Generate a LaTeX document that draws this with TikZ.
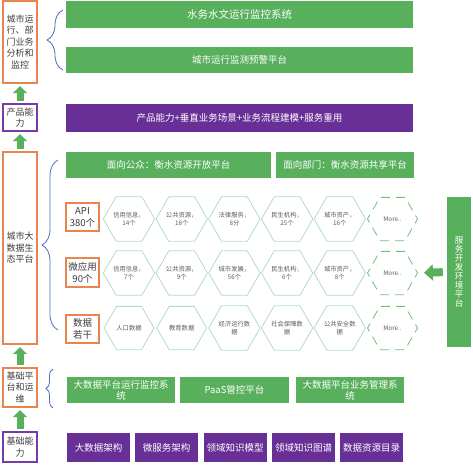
\documentclass[tikz,border=0pt]{standalone}
\usepackage{fontspec}
\newfontfamily\cjk{Noto Sans CJK SC}
\usetikzlibrary{shapes.geometric,arrows.meta,decorations.pathreplacing}
\definecolor{gbar}{RGB}{88,176,92}
\definecolor{pbar}{RGB}{104,48,150}
\definecolor{oline}{RGB}{232,132,78}
\definecolor{pline}{RGB}{120,60,170}
\definecolor{hexline}{RGB}{176,220,196}
\definecolor{moreline}{RGB}{110,190,120}
\definecolor{bracec}{RGB}{80,110,190}
\definecolor{txt}{RGB}{60,60,60}
\definecolor{hextxt}{RGB}{90,90,90}
\tikzset{
  base/.style={inner sep=0pt, align=center},
  gbox/.style={base, fill=gbar, text=white, font=\cjk\fontsize{9.5}{11}\selectfont},
  pbox/.style={base, fill=pbar, text=white, font=\cjk\fontsize{9.5}{11}\selectfont},
  lbox/.style={base, fill=white, draw=oline, line width=1.3pt, text=txt, minimum width=34pt, font=\cjk\fontsize{9}{11.5}\selectfont},
  lpbox/.style={lbox, draw=pline},
  hexbox/.style={base, regular polygon, regular polygon sides=6, minimum size=50pt, draw=hexline, line width=0.8pt, text=hextxt, font=\cjk\fontsize{6.3}{8}\selectfont},
  morebox/.style={hexbox, draw=moreline, dash pattern=on 9pt off 6pt},
  uparrow/.style={draw=gbar, line width=7pt, -{Triangle[width=14pt,length=7pt]}, shorten <=2.5pt, shorten >=2.5pt},
  lbrace/.style={draw=bracec, line width=0.8pt, decorate},
}
\begin{document}
\begin{tikzpicture}[x=1pt,y=-1pt]
\useasboundingbox (0,0) rectangle (473,464);
% left labels
\node[lbox, minimum height=82pt] (L1) at (20,42) {城市运\\行、部\\门业务\\分析和\\监控};
\node[lpbox, minimum height=27pt] (L2) at (20,117.5) {产品能\\力};
\node[lbox, minimum height=192pt] (L3) at (20,248) {城市大\\数据生\\态平台};
\node[lbox, minimum height=39pt] (L4) at (20,387.5) {基础平\\台和运\\维};
\node[lpbox, minimum height=30pt] (L5) at (20,447) {基础能\\力};
\draw[uparrow] (L2.north) -- (L1.south);
\draw[uparrow] (L3.north) -- (L2.south);
\draw[uparrow] (L4.north) -- (L3.south);
\draw[uparrow] (L5.north) -- (L4.south);
% braces
\draw[lbrace, decoration={brace, amplitude=16pt, aspect=0.5}] (63,70) -- (63,10);
\draw[lbrace, decoration={brace, amplitude=16pt, aspect=0.5}] (58,330) -- (58,160);
\draw[lbrace, decoration={brace, amplitude=7pt, aspect=0.5}] (53,408) -- (53,369);
% top bars
\node[gbox, minimum width=347pt, minimum height=27pt, font=\cjk\fontsize{10.5}{12}\selectfont] (G1) at (239.5,14) {水务水文运行监控系统};
\node[gbox, minimum width=347pt, minimum height=26pt] (G2) at (239.5,60) {城市运行监测预警平台};
\node[pbox, minimum width=347pt, minimum height=28pt] (P1) at (239.5,118) {产品能力+垂直业务场景+业务流程建模+服务重用};
\node[gbox, minimum width=205pt, minimum height=26pt] (G3) at (168.5,165) {面向公众：衡水资源开放平台};
\node[gbox, minimum width=138pt, minimum height=26pt] (G4) at (345,165) {面向部门：衡水资源共享平台};
% row labels
\node[lbox, minimum width=33pt, minimum height=28pt, font=\cjk\fontsize{9.5}{12}\selectfont] (A1) at (82.5,217) {API\\380个};
\node[lbox, minimum width=33pt, minimum height=29pt, font=\cjk\fontsize{9.5}{12}\selectfont] (A2) at (82.5,272.5) {微应用\\90个};
\node[lbox, minimum width=33pt, minimum height=28pt, font=\cjk\fontsize{9.5}{12}\selectfont] (A3) at (82.5,329) {数据\\若干};
% hex row 1
\node[hexbox] (h11) at (129,219) {信用信息，\\14个};
\node[hexbox] (h12) at (181.7,219) {公共资源，\\18个};
\node[hexbox] (h13) at (234.4,219) {法律服务，\\8分};
\node[hexbox] (h14) at (287.1,219) {民生机构，\\25个};
\node[hexbox] (h15) at (339.8,219) {城市资产，\\16个};
\node[morebox] (h16) at (392.5,219) {More..};
% hex row 2
\node[hexbox] (h21) at (129,273) {信用信息，\\7个};
\node[hexbox] (h22) at (181.7,273) {公共资源，\\9个};
\node[hexbox] (h23) at (234.4,273) {城市发展，\\56个};
\node[hexbox] (h24) at (287.1,273) {民生机构，\\6个};
\node[hexbox] (h25) at (339.8,273) {城市资产，\\8个};
\node[morebox] (h26) at (392.5,273) {More..};
% hex row 3
\node[hexbox] (h31) at (129,328) {人口数据};
\node[hexbox] (h32) at (181.7,328) {教育数据};
\node[hexbox] (h33) at (234.4,328) {经济运行数\\据};
\node[hexbox] (h34) at (287.1,328) {社会保障数\\据};
\node[hexbox] (h35) at (339.8,328) {公共安全数\\据};
\node[morebox] (h36) at (392.5,328) {More..};
% right box
\node[gbox, minimum width=24pt, minimum height=150pt, font=\cjk\fontsize{8.5}{9}\selectfont] (R) at (459,272) {服\\务\\开\\发\\环\\境\\平\\台};
\draw[draw=gbar, line width=8pt, -{Triangle[width=16pt,length=9pt]}, shorten <=4pt, shorten >=6pt] (R.west) -- (h26.east);
% bottom bars
\node[gbox, minimum width=108pt, minimum height=26pt] (B1) at (121,390) {大数据平台运行监控系\\统};
\node[gbox, minimum width=109pt, minimum height=26pt] (B2) at (234.5,390) {PaaS管控平台};
\node[gbox, minimum width=108pt, minimum height=26pt] (B3) at (350,390) {大数据平台业务管理系\\统};
\node[pbox, minimum width=63pt, minimum height=29pt] (C1) at (98.5,447.5) {大数据架构};
\node[pbox, minimum width=63pt, minimum height=29pt] (C2) at (166.5,447.5) {微服务架构};
\node[pbox, minimum width=63pt, minimum height=29pt] (C3) at (235,447.5) {领域知识模型};
\node[pbox, minimum width=63pt, minimum height=29pt] (C4) at (303.5,447.5) {领域知识图谱};
\node[pbox, minimum width=63pt, minimum height=29pt] (C5) at (371.5,447.5) {数据资源目录};
\end{tikzpicture}
\end{document}
